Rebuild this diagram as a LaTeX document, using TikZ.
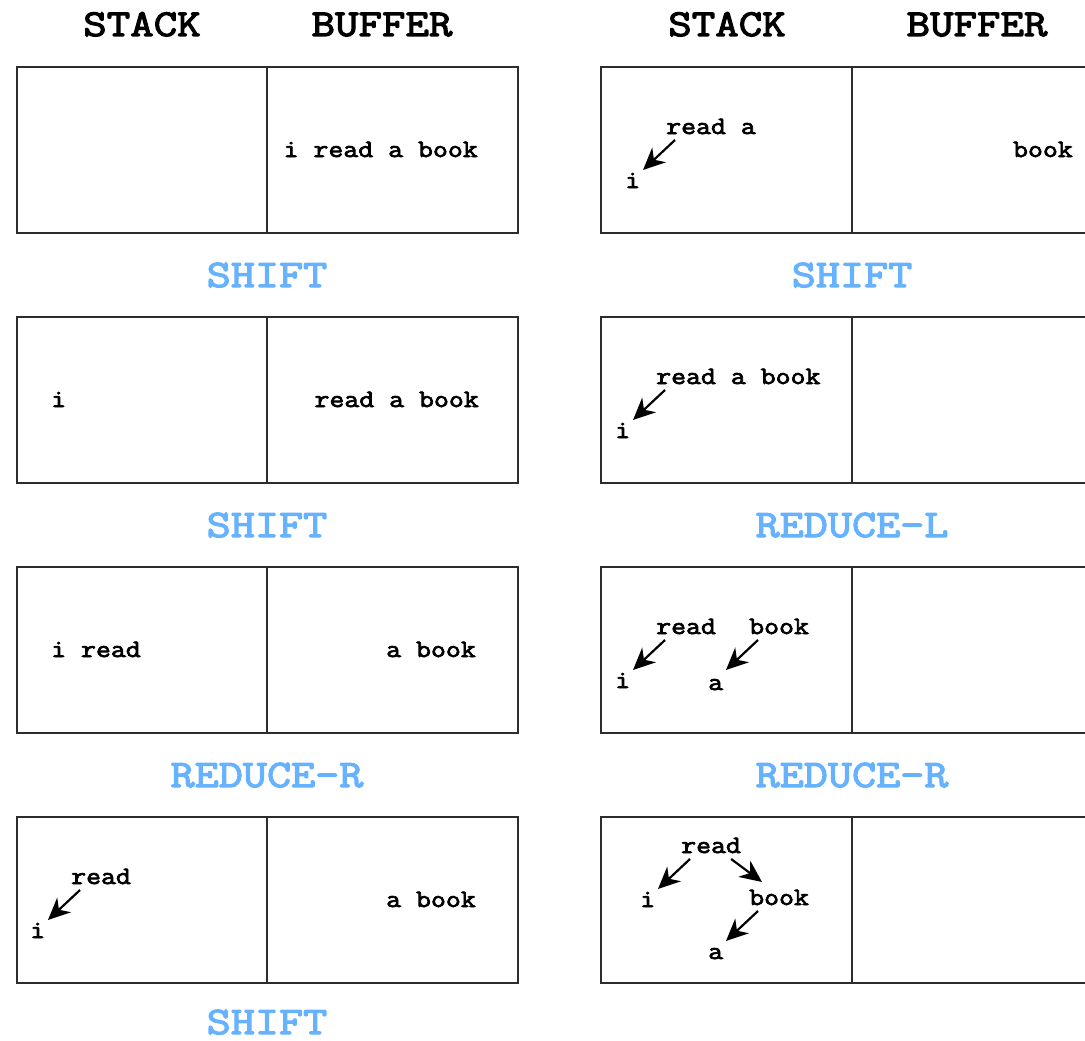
\documentclass[tikz,border=0pt]{standalone}
\usepackage{fontspec}
\newfontfamily\courw{Latin Modern Mono}[FakeBold=2.8, FakeStretch=1.16]
\newfontfamily\courh{Latin Modern Mono}[FakeBold=3.2, FakeStretch=1.2]
\usetikzlibrary{arrows.meta}
\definecolor{opblue}{RGB}{102,178,255}
\definecolor{boxline}{RGB}{45,45,45}
\begin{document}
\begin{tikzpicture}[x=1pt,y=-1pt,
  panel/.style={draw=boxline,line width=1.6pt},
  hdr/.style={font=\fontsize{38}{42}\selectfont\courh,inner sep=0pt,anchor=base},
  op/.style={font=\fontsize{39}{43}\selectfont\courh,text=opblue,inner sep=0pt,anchor=base},
  wd/.style={font=\fontsize{25}{28}\selectfont\courw,inner sep=0pt},
  arr/.style={-{Stealth[length=22pt,width=20pt,inset=7pt]},line width=2.2pt}]
\useasboundingbox (0,0) rectangle (1085,1041);

% headers
\node[hdr] (hs1) at (142,36) {STACK};
\node[hdr] (hb1) at (382,36) {BUFFER};
\node[hdr] (hs2) at (727,36) {STACK};
\node[hdr] (hb2) at (977,36) {BUFFER};

% boxes
\foreach \t in {67,317,567,817}{
  \draw[panel] (17,\t) rectangle (518,\t+166);
  \draw[panel] (267,\t) -- (267,\t+166);
  \draw[panel] (601,\t) rectangle (1102,\t+166);
  \draw[panel] (852,\t) -- (852,\t+166);
}

% operation labels
\node[op] (o1) at (267,287) {SHIFT};
\node[op] (o2) at (267,537) {SHIFT};
\node[op] (o3) at (267,787) {REDUCE-R};
\node[op] (o4) at (267,1034) {SHIFT};
\node[op] (o5) at (852,287) {SHIFT};
\node[op] (o6) at (852,537) {REDUCE-L};
\node[op] (o7) at (852,787) {REDUCE-R};

% row 1 left
\node[wd,anchor=base east] (l1b) at (478,157) {i read a book};
% row 2 left
\node[wd,anchor=base west] (l2i) at (51,407) {i};
\node[wd,anchor=base east] (l2b) at (479,407) {read a book};
% row 3 left
\node[wd,anchor=base west] (l3s) at (51,657) {i read};
\node[wd,anchor=base east] (l3b) at (476,657) {a book};
% row 4 left
\node[wd,anchor=base west] (l4r) at (71,884) {read};
\node[wd,anchor=base west] (l4i) at (30,938) {i};
\node[wd,anchor=base east] (l4b) at (476,907) {a book};
\draw[arr] ([shift={(9,6)}]l4r.base west) -- ([shift={(18,-18)}]l4i.base west);

% row 1 right
\node[wd,anchor=base west] (r1r) at (666,134) {read a};
\node[wd,anchor=base west] (r1i) at (625,188) {i};
\node[wd,anchor=base east] (r1b) at (1073,157) {book};
\draw[arr] ([shift={(9,6)}]r1r.base west) -- ([shift={(18,-18)}]r1i.base west);

% row 2 right
\node[wd,anchor=base west] (r2r) at (656,384) {read a book};
\node[wd,anchor=base west] (r2i) at (615,438) {i};
\draw[arr] ([shift={(9,6)}]r2r.base west) -- ([shift={(18,-18)}]r2i.base west);

% row 3 right
\node[wd,anchor=base west] (r3r) at (656,634) {read};
\node[wd,anchor=base west] (r3i) at (615,688) {i};
\node[wd,anchor=base west] (r3b) at (749,634) {book};
\node[wd,anchor=base west] (r3a) at (708,690) {a};
\draw[arr] ([shift={(9,6)}]r3r.base west) -- ([shift={(18,-18)}]r3i.base west);
\draw[arr] ([shift={(9,6)}]r3b.base west) -- ([shift={(18,-20)}]r3a.base west);

% row 4 right
\node[wd,anchor=base west] (r4r) at (681,853) {read};
\node[wd,anchor=base west] (r4i) at (640,907) {i};
\node[wd,anchor=base west] (r4b) at (749,905) {book};
\node[wd,anchor=base west] (r4a) at (708,959) {a};
\draw[arr] ([shift={(9,6)}]r4r.base west) -- ([shift={(18,-18)}]r4i.base west);
\draw[arr] ([shift={(-10,6)}]r4r.base east) -- ([shift={(13,-23)}]r4b.base west);
\draw[arr] ([shift={(9,6)}]r4b.base west) -- ([shift={(18,-18)}]r4a.base west);
\end{tikzpicture}
\end{document}
